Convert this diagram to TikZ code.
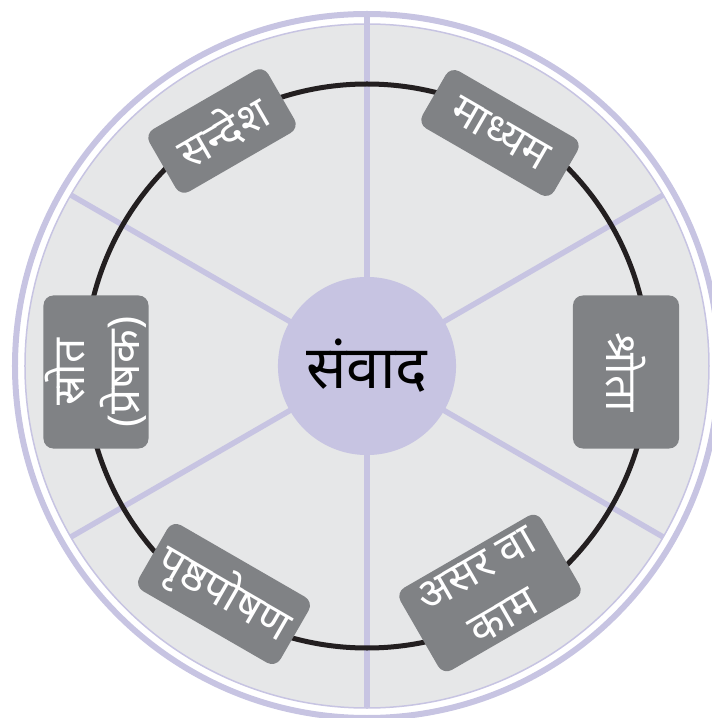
\documentclass[tikz,border=0pt]{standalone}
\usepackage{fontspec}
\setmainfont[Script=Devanagari]{Noto Sans}
\usetikzlibrary{positioning}
\definecolor{lavender}{RGB}{199,196,226}
\definecolor{discgrey}{RGB}{230,231,232}
\definecolor{boxgrey}{RGB}{128,130,133}
\definecolor{ringblack}{RGB}{35,31,32}
\tikzset{
  stage/.style={rounded corners=0.1cm, fill=boxgrey, text=white, align=center,
    inner sep=0pt, font=\fontsize{12.5}{15.5}\selectfont},
  spoke/.style={lavender, line width=0.055cm}
}

\begin{document}
\begin{tikzpicture}[x=0.01cm, y=0.01cm]
  \useasboundingbox (-367,-352) rectangle (344,366);
  \coordinate (o) at (0,0);
  % disc and rim
  \fill[discgrey] (o) circle (342);
  \draw[lavender, line width=0.015cm] (o) circle (342);
  \draw[lavender, line width=0.06cm] (o) circle (352);
  % spokes
  \foreach \a in {30,-30,-90,-150,150}
    \draw[spoke] (o) -- (\a:342);
  \draw[spoke] (o) -- (90:353);
  % ring
  \draw[ringblack, line width=0.05cm] (o) circle (282);
  \node[circle, fill=lavender, minimum size=1.78cm, inner sep=0pt,
    font=\fontsize{17}{20}\selectfont] (samvad) at (o) {संवाद};
  % stages
  \node[stage, minimum width=1.37cm, minimum height=0.72cm, rotate=30] (sandesh) at (-145,235) {सन्देश};
  \node[stage, minimum width=1.52cm, minimum height=0.66cm, rotate=-30] (madhyam) at (133,233) {माध्यम};
  \node[stage, minimum width=1.53cm, minimum height=1.06cm, rotate=-90] (shrota) at (259,-6) {श्रोता};
  \node[stage, minimum width=1.63cm, minimum height=0.95cm, rotate=30] (asar) at (123,-227) {असर वा\\काम};
  \node[stage, minimum width=1.63cm, minimum height=0.76cm, rotate=-30] (prishtha) at (-143,-228) {पृष्ठपोषण};
  \node[stage, minimum width=1.53cm, minimum height=1.05cm, rotate=90] (srot) at (-271,-6) {स्रोत\\(प्रेषक)};
\end{tikzpicture}
\end{document}
